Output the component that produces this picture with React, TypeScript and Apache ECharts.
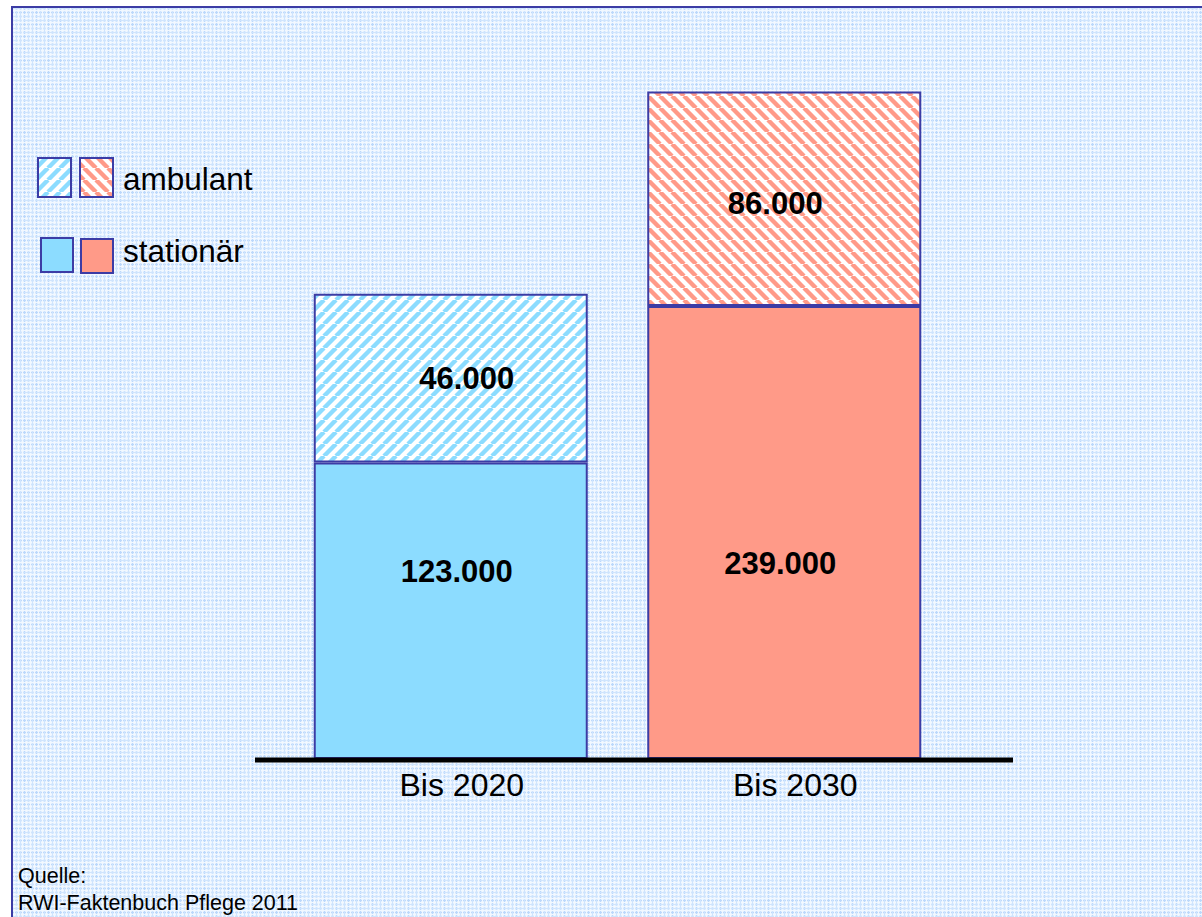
import React, { useEffect, useRef } from "react";
import * as echarts from "echarts";

// ---- data ----
const categories = ["Bis 2020", "Bis 2030"];
const seriesNames = ["stationär", "ambulant"];
// values printed on the bars
const stationaerValues = [123000, 239000];
const ambulantValues = [46000, 86000];
// bar heights as drawn in the reference (the original is not to scale), thousands on hidden axis
const stationaerDrawn = [123, 188];
const ambulantDrawn = [70, 89];
const sourceLines = ["Quelle:", "RWI-Faktenbuch Pflege 2011"];

const FONT = "'Liberation Sans', Arial, Helvetica, sans-serif";
const BORDER = "#3c3ca5";
const BLUE = "#8cdcff";
const RED = "#ff9a88";

function fmt(v: number): string {
  return String(v).replace(/\B(?=(\d{3})+(?!\d))/g, ".");
}

function stripePattern(color: string, dir: "/" | "\\") {
  const s = 12;
  const c = document.createElement("canvas");
  c.width = s;
  c.height = s;
  const ctx = c.getContext("2d")!;
  ctx.fillStyle = "#ffffff";
  ctx.fillRect(0, 0, s, s);
  ctx.strokeStyle = color;
  ctx.lineWidth = 4.4;
  for (let k = -1; k <= 1; k++) {
    ctx.beginPath();
    if (dir === "/") {
      ctx.moveTo(k * s, s);
      ctx.lineTo(k * s + s, 0);
    } else {
      ctx.moveTo(k * s, 0);
      ctx.lineTo(k * s + s, s);
    }
    ctx.stroke();
  }
  return { image: c, repeat: "repeat", imageWidth: s, imageHeight: s } as any;
}

function gridPattern() {
  const s = 12;
  const c = document.createElement("canvas");
  c.width = s;
  c.height = s;
  const ctx = c.getContext("2d")!;
  ctx.fillStyle = "#e2f0ff";
  ctx.fillRect(0, 0, s, s);
  const lines: [number, string][] = [
    [0, "#bcd8fb"],
    [2, "#f2f8ff"],
    [4, "#cfe4fd"],
    [6, "#f2f8ff"],
    [8, "#cfe4fd"],
    [10, "#f2f8ff"],
  ];
  for (const [p, col] of lines) {
    ctx.fillStyle = col;
    ctx.fillRect(p, 0, 1, s);
    ctx.fillRect(0, p, s, 1);
  }
  return { image: c, repeat: "repeat", imageWidth: s, imageHeight: s } as any;
}

export default function App() {
  const ref = useRef<HTMLDivElement>(null);

  useEffect(() => {
    if (!ref.current) return;
    const chart = echarts.init(ref.current, undefined, { renderer: "svg" });

    const solid = [BLUE, RED];
    const hatched = [stripePattern(BLUE, "/"), stripePattern(RED, "\\")];
    const statLabelOffsets = [[6, -39], [-4, 31]];
    const ambLabelOffsets = [[16, 0], [-9, 5]];

    const labelBase = {
      show: true,
      position: "inside",
      color: "#000",
      fontFamily: FONT,
      fontWeight: "bold",
      fontSize: 31,
    };

    const option: any = {
      animation: false,
      backgroundColor: "#ffffff",
      grid: { left: 284, right: 251, top: 36, bottom: 158, containLabel: false },
      xAxis: {
        type: "category",
        data: categories,
        axisLine: { show: false },
        axisTick: { show: false },
        axisLabel: {
          color: "#000",
          fontFamily: FONT,
          fontSize: 32,
          margin: 10,
          padding: [0, 0, 0, 22],
        },
      },
      yAxis: {
        type: "value",
        min: 0,
        max: 300,
        show: false,
        splitLine: { show: false },
      },
      series: [
        {
          name: seriesNames[0],
          type: "bar",
          stack: "total",
          barWidth: 274,
          data: stationaerDrawn.map((v, i) => ({
            value: v,
            itemStyle: { color: solid[i], borderColor: BORDER, borderWidth: 2 },
            label: { ...labelBase, offset: statLabelOffsets[i] },
          })),
          label: {
            ...labelBase,
            formatter: (p: any) => fmt(stationaerValues[p.dataIndex]),
          },
        },
        {
          name: seriesNames[1],
          type: "bar",
          stack: "total",
          barWidth: 274,
          data: ambulantDrawn.map((v, i) => ({
            value: v,
            itemStyle: { color: hatched[i], borderColor: BORDER, borderWidth: 2 },
            label: { ...labelBase, offset: ambLabelOffsets[i] },
          })),
          label: {
            ...labelBase,
            formatter: (p: any) => fmt(ambulantValues[p.dataIndex]),
          },
        },
      ],
      graphic: [
        {
          type: "rect",
          z: -10,
          silent: true,
          shape: { x: 12, y: 7, width: 1210, height: 930 },
          style: { fill: gridPattern(), stroke: BORDER, lineWidth: 2 },
        },
        {
          type: "line",
          z: 100,
          shape: { x1: 255, y1: 760, x2: 1013, y2: 760 },
          style: { stroke: "#000", lineWidth: 5 },
        },
        // legend
        {
          type: "rect",
          z: 100,
          shape: { x: 38, y: 158, width: 33, height: 39 },
          style: { fill: stripePattern(BLUE, "/"), stroke: BORDER, lineWidth: 2 },
        },
        {
          type: "rect",
          z: 100,
          shape: { x: 80, y: 158, width: 33, height: 39 },
          style: { fill: stripePattern(RED, "\\"), stroke: BORDER, lineWidth: 2 },
        },
        {
          type: "text",
          z: 100,
          x: 123,
          y: 179,
          style: {
            text: seriesNames[1],
            fill: "#000",
            font: `31.5px ${FONT}`,
            verticalAlign: "middle",
          },
        },
        {
          type: "rect",
          z: 100,
          shape: { x: 41, y: 238, width: 32, height: 34 },
          style: { fill: BLUE, stroke: BORDER, lineWidth: 2 },
        },
        {
          type: "rect",
          z: 100,
          shape: { x: 81, y: 239, width: 32, height: 34 },
          style: { fill: RED, stroke: BORDER, lineWidth: 2 },
        },
        {
          type: "text",
          z: 100,
          x: 123,
          y: 251,
          style: {
            text: seriesNames[0],
            fill: "#000",
            font: `31.5px ${FONT}`,
            verticalAlign: "middle",
          },
        },
        // source
        {
          type: "text",
          z: 100,
          x: 18,
          y: 876,
          style: {
            text: sourceLines[0],
            fill: "#000",
            font: `21.5px ${FONT}`,
            verticalAlign: "middle",
          },
        },
        {
          type: "text",
          z: 100,
          x: 18,
          y: 903,
          style: {
            text: sourceLines[1],
            fill: "#000",
            font: `21.5px ${FONT}`,
            verticalAlign: "middle",
          },
        },
      ],
    };

    chart.setOption(option);
    return () => chart.dispose();
  }, []);

  return (
    <div
      ref={ref}
      style={{ position: "absolute", left: 0, top: 0, width: 1202, height: 917 }}
    />
  );
}
